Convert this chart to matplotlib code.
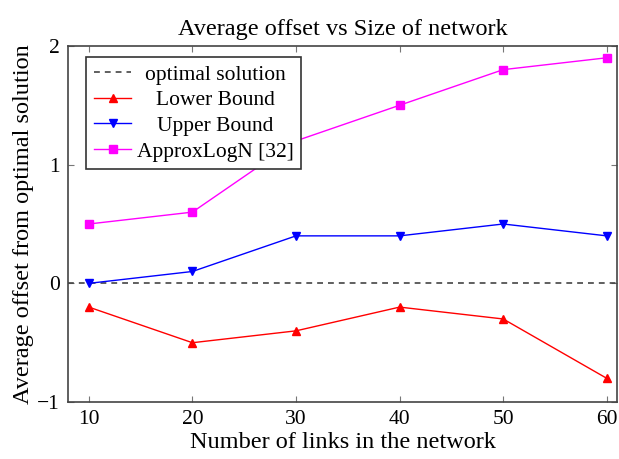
import matplotlib
matplotlib.use("Agg")
import matplotlib.pyplot as plt

links = [10, 20, 30, 40, 50, 60]
optimal = [0, 0, 0, 0, 0, 0]
lower_bound = [-0.2, -0.5, -0.4, -0.2, -0.3, -0.8]
upper_bound = [0.0, 0.1, 0.4, 0.4, 0.5, 0.4]
approx_logn = [0.5, 0.6, 1.2, 1.5, 1.8, 1.9]
x_ticks = [10, 20, 30, 40, 50, 60]
y_ticks = [-1, 0, 1, 2]

plt.rcParams['font.family'] = ['Liberation Serif', 'DejaVu Serif']

fig = plt.figure(figsize=(6.19, 4.59), dpi=100)
ax = fig.add_axes([0.110, 0.124, 0.887, 0.776])

ax.plot([8, 61], optimal[:1] * 2, color='#444444', linestyle=(0, (3.5, 3)), lw=1.2, label='optimal solution')
ax.plot(links, lower_bound, color='#ff0000', marker='^', markersize=5.5, lw=1, label='Lower Bound')
ax.plot(links, upper_bound, color='#0000ff', marker='v', markersize=5.5, lw=1, label='Upper Bound')
ax.plot(links, approx_logn, color='#ff00ff', marker='s', markersize=6, lw=1, label='ApproxLogN [32]')

ax.set_xlim(8, 61)
ax.set_ylim(-1, 2)
ax.set_xticks(x_ticks)
ax.set_yticks(y_ticks)
ax.set_yticklabels(['\u22121', '0', '1', '2'])
ax.tick_params(direction='in', top=True, right=True, length=4, width=0.8,
               color='#777777', labelsize=15.5, pad=6)
for s in ax.spines.values():
    s.set_color('#444444')
    s.set_linewidth(1.2)

ax.set_title('Average offset vs Size of network', fontsize=17.5, pad=8)
ax.set_xlabel('Number of links in the network', fontsize=17.5, labelpad=2)
ax.set_ylabel('Average offset from optimal solution', fontsize=17.5, labelpad=2)

leg = ax.legend(loc='upper left', bbox_to_anchor=(0.033, 0.969), fontsize=15.5,
                frameon=True, fancybox=False, edgecolor='#333333', framealpha=1,
                borderpad=0.35, labelspacing=0.26, handlelength=1.75, handletextpad=0.25,
                borderaxespad=0)
leg.get_frame().set_linewidth(1.2)

fig.canvas.draw()
renderer = fig.canvas.get_renderer()
widths = [t.get_window_extent(renderer).width for t in leg.get_texts()]
widest = max(widths)
for t, w in zip(leg.get_texts(), widths):
    t.set_ha('left')
    t.set_position(((widest - w) / 2, 0))

fig.savefig('out.png', dpi=100)
